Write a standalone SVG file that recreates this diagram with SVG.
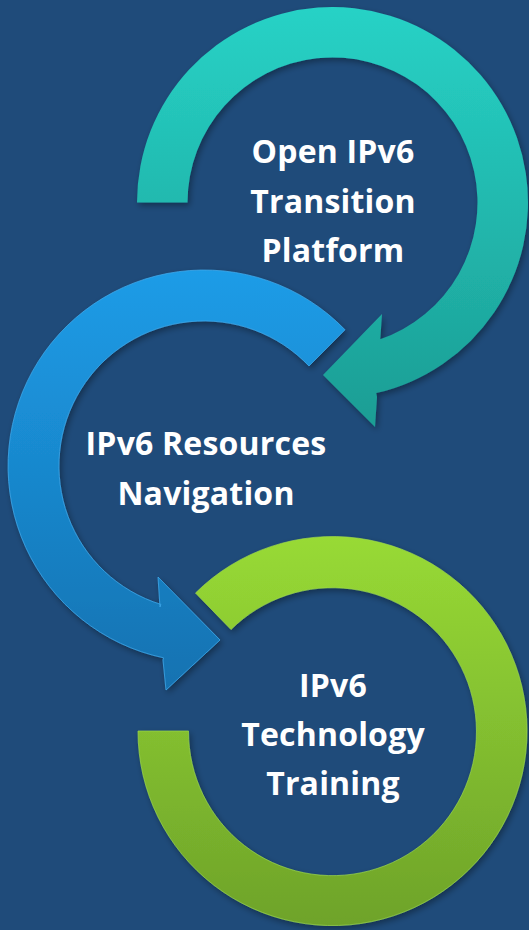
<svg xmlns="http://www.w3.org/2000/svg" width="529" height="930" viewBox="0 0 529 930">
  <style>
    .lbl { font-family: "Open Sans", "Noto Sans", "DejaVu Sans", sans-serif; font-weight: 700; font-size: 32px; letter-spacing: 0.2px; fill: #FFFFFF; text-anchor: middle; }
  </style>
  <defs>
    <linearGradient id="gTeal" x1="0" y1="0" x2="0" y2="1">
      <stop offset="0" stop-color="#27D2C6"/>
      <stop offset="1" stop-color="#1C9D94"/>
    </linearGradient>
    <linearGradient id="gBlue" x1="0" y1="0" x2="0" y2="1">
      <stop offset="0" stop-color="#1D9CE7"/>
      <stop offset="1" stop-color="#1472B1"/>
    </linearGradient>
    <linearGradient id="gGreen" x1="0" y1="0" x2="0" y2="1">
      <stop offset="0" stop-color="#98DA35"/>
      <stop offset="1" stop-color="#6EA32A"/>
    </linearGradient>
    <filter id="shadow" x="-10%" y="-10%" width="120%" height="120%">
      <feDropShadow dx="2" dy="3" stdDeviation="3" flood-color="#000000" flood-opacity="0.35"/>
    </filter>
  </defs>
  <rect x="0" y="0" width="529" height="930" fill="#1F4B7A"/>

  <g id="connectors">
    <path id="arrow-teal" filter="url(#shadow)" fill="url(#gTeal)"
          d="M 137 202.5 A 195.5 195.5 0 1 1 376.2 393.1 L 377 397 L 375 427 L 323 375 L 382 314 L 380 343 L 379 339.8 A 145 145 0 1 0 187.5 202.5 Z"/>
    <path id="arrow-blue" filter="url(#shadow)" fill="url(#gBlue)" stroke="#3DA8EA" stroke-width="1" stroke-opacity="0.8"
          d="M 345 329.8 A 196 196 0 1 0 163.6 657.8 L 163 660 L 166 690 L 220 640 L 158 577 L 160 607 L 160.9 604.4 A 145 145 0 1 1 309 366 Z"/>
    <path id="ring-green" filter="url(#shadow)" fill="url(#gGreen)" stroke="#9CD84A" stroke-width="1" stroke-opacity="0.7"
          d="M 195.5 593 A 194.5 194.5 0 1 1 138 731 L 188.5 731 A 144 144 0 1 0 231 629.5 Z"/>
  </g>

  <g id="node-platform">
    <text class="lbl" x="333" y="163">Open IPv6</text>
    <text class="lbl" x="333" y="213">Transition</text>
    <text class="lbl" x="333" y="262">Platform</text>
  </g>
  <g id="node-navigation">
    <text class="lbl" x="206" y="455">IPv6 Resources</text>
    <text class="lbl" x="206" y="505">Navigation</text>
  </g>
  <g id="node-training">
    <text class="lbl" x="333" y="697">IPv6</text>
    <text class="lbl" x="333" y="746">Technology</text>
    <text class="lbl" x="333" y="795">Training</text>
  </g>
</svg>
